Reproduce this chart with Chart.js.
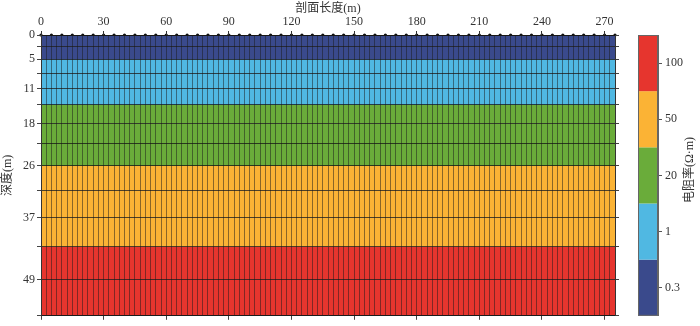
<!DOCTYPE html>
<html>
<head>
<meta charset="utf-8">
<script src="https://cdn.jsdelivr.net/npm/chart.js@4.4.0/dist/chart.umd.min.js"></script>
<style>
  body { margin: 0; background: #fff; }
</style>
</head>
<body>
<canvas id="myChart" width="700" height="326"></canvas>
<script>
// profile length (m)
var xMax = 275;
var xLabels = [0, 30, 60, 90, 120, 150, 180, 210, 240, 270];

// model cells are 2.5 m wide, electrodes every 5 m
var columnEdges = [];
for (var c = 0; c <= 110; c++) columnEdges.push(c * 2.5);
var electrodes = [];
for (var e = 0; e <= 55; e++) electrodes.push(e * 5);

// layer boundaries (m) and the depth labels shown on the axis
var depthBounds = [0, 2.35, 4.87, 7.65, 10.7, 14.0, 17.7, 21.8, 26.2, 31.1, 36.6, 42.4, 49.0, 56.2];
var depthLabels = ['0', '', '5', '', '11', '', '18', '', '26', '', '37', '', '49', ''];

// resistivity of each layer (ohm.m)
var layerRes = [0.3, 0.3, 1, 1, 1, 20, 20, 20, 50, 50, 50, 100, 100];

// colour classes of the legend bar
var resClasses = [0.3, 1, 20, 50, 100];
var resLabels = ['0.3', '1', '20', '50', '100'];
var resColors = ['#3a4a8c', '#50b8e2', '#6aac3a', '#fbb335', '#e6352e'];

var fontFamily = "'Liberation Serif', 'Noto Sans CJK SC', serif";
var tickFont = { family: fontFamily, size: 12 };
var textColor = '#333';

function colorFor(res) {
  return resColors[resClasses.indexOf(res)];
}

var datasets = [];
layerRes.forEach(function(res, i) {
  datasets.push({
    type: 'line',
    data: [{ x: 0, y: depthBounds[i + 1] }, { x: xMax, y: depthBounds[i + 1] }],
    fill: { value: depthBounds[i] },
    backgroundColor: colorFor(res),
    borderWidth: 0,
    pointRadius: 0
  });
});
datasets.push({
  type: 'scatter',
  data: electrodes.map(function(x) { return { x: x, y: 0 }; }),
  pointRadius: 1.6,
  pointBackgroundColor: '#111',
  pointBorderWidth: 0,
  clip: false
});

var colorBar = {
  id: 'colorBar',
  afterDraw: function(chart) {
    var ctx = chart.ctx;
    var cb = chart.scales.cb;
    var n = resLabels.length;
    var h = (cb.bottom - cb.top) / n;
    var w = 20;
    ctx.save();
    resLabels.forEach(function(lbl, j) {
      var y = cb.getPixelForValue(cb.getLabels().indexOf(lbl)) - h / 2;
      ctx.fillStyle = resColors[j];
      ctx.fillRect(cb.left - w, y, w, h);
    });
    ctx.strokeStyle = '#666';
    ctx.lineWidth = 1;
    ctx.strokeRect(cb.left - w + 0.5, cb.top + 0.5, w - 1, cb.bottom - cb.top - 1);
    // legend title
    ctx.translate(690, 170);
    ctx.rotate(-Math.PI / 2);
    ctx.fillStyle = textColor;
    ctx.font = '12px ' + fontFamily;
    ctx.textAlign = 'center';
    ctx.textBaseline = 'middle';
    ctx.fillText('电阻率(Ω·m)', 0, 0);
    ctx.restore();
  }
};

var ctx = document.getElementById('myChart').getContext('2d');
var myChart = new Chart(ctx, {
  type: 'line',
  data: { datasets: datasets },
  plugins: [colorBar],
  options: {
    responsive: false,
    devicePixelRatio: 1,
    animation: false,
    layout: { padding: 0 },
    plugins: { legend: { display: false }, tooltip: { enabled: false } },
    scales: {
      x: {
        type: 'linear', position: 'top', min: 0, max: xMax,
        afterBuildTicks: function(s) { s.ticks = columnEdges.map(function(v) { return { value: v }; }); },
        afterFit: function(s) { s.height = 35; },
        ticks: {
          autoSkip: false, maxRotation: 0, padding: 2, font: tickFont, color: textColor,
          callback: function(v) { return xLabels.indexOf(v) >= 0 ? String(v) : ''; }
        },
        grid: {
          z: 1, color: 'rgba(25,25,25,0.5)', lineWidth: 1, tickLength: 4,
          tickColor: function(c) { return xLabels.indexOf(c.tick.value) >= 0 ? '#333' : 'rgba(0,0,0,0)'; }
        },
        border: { z: 1, color: '#222' },
        title: { display: true, text: '剖面长度(m)', padding: { top: 2, bottom: 0 }, font: tickFont, color: textColor }
      },
      xb: {
        type: 'linear', position: 'bottom', min: 0, max: xMax,
        afterBuildTicks: function(s) { s.ticks = xLabels.map(function(v) { return { value: v }; }); },
        afterFit: function(s) { s.height = 8; },
        ticks: { display: false },
        grid: { z: 1, drawOnChartArea: false, tickLength: 4, color: '#444' },
        border: { z: 1, color: '#333' }
      },
      y: {
        type: 'linear', position: 'left', reverse: true, min: 0, max: depthBounds[depthBounds.length - 1],
        afterBuildTicks: function(s) { s.ticks = depthBounds.map(function(v) { return { value: v }; }); },
        afterFit: function(s) { s.width = 41; },
        ticks: {
          autoSkip: false, padding: 2, font: tickFont, color: textColor,
          callback: function(v, i) { return depthLabels[i]; }
        },
        grid: { z: 1, color: 'rgba(20,20,20,0.75)', lineWidth: 1, tickLength: 4, tickColor: '#444' },
        border: { z: 1, color: '#333' },
        title: { display: true, text: '深度(m)', padding: { top: 1, bottom: 0 }, font: tickFont, color: textColor }
      },
      yr: {
        type: 'linear', position: 'right', reverse: true, min: 0, max: depthBounds[depthBounds.length - 1], weight: 0,
        afterBuildTicks: function(s) { s.ticks = depthBounds.map(function(v) { return { value: v }; }); },
        afterFit: function(s) { s.width = 43; },
        ticks: { display: false },
        grid: { z: 1, drawOnChartArea: false, tickLength: 4, color: '#444' },
        border: { z: 1, color: '#333' }
      },
      cb: {
        type: 'category', position: 'right', weight: 1,
        labels: resLabels.slice().reverse(),
        offset: true,
        afterFit: function(s) { s.width = 42; },
        ticks: { padding: 3, font: tickFont, color: textColor },
        grid: { z: 1, drawOnChartArea: false, tickLength: 4, color: '#555' },
        border: { z: 1, color: '#666' }
      }
    }
  }
});
</script>
</body>
</html>
